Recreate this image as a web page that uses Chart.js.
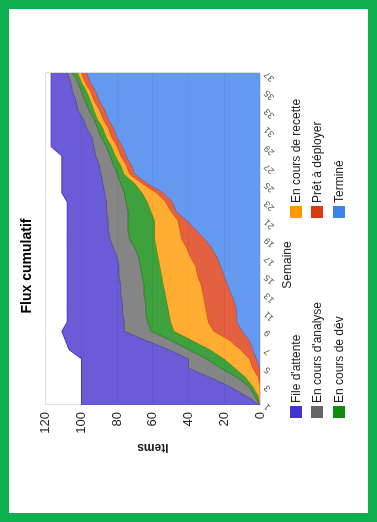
<!DOCTYPE html>
<html>
<head>
<meta charset="utf-8">
<script src="https://cdn.jsdelivr.net/npm/chart.js@4.4.0/dist/chart.umd.min.js"></script>
<style>
    html, body { margin: 0; padding: 0; background: #fff; overflow: hidden; }
    /* le graphique est dessiné à plat puis tourné d'un quart de tour */
    #frame {
        position: absolute; left: 0; top: 0;
        width: 522px; height: 377px;
        box-sizing: border-box;
        border: 9px solid #0cb04f;
        background: #fff;
        transform-origin: 0 0;
        transform: translateY(522px) rotate(-90deg);
        font-family: "Liberation Sans", Arial, sans-serif;
    }
    #chart { position: absolute; left: 0; top: 0; }
    #xtitle {
        position: absolute; left: 248px; top: 271px;
        transform: translateX(-50%);
        font-size: 12px; line-height: 14px; color: #222; white-space: nowrap;
    }
    #legend {
        position: absolute; left: 95px; top: 276px;
        display: grid;
        grid-template-columns: 200px 200px;
        grid-auto-rows: 21.5px;
        grid-auto-flow: column;
        grid-template-rows: repeat(3, 21.5px);
        font-size: 12px; color: #222;
    }
    #legend .item { display: flex; align-items: center; white-space: nowrap; }
    #legend .box { width: 12px; height: 12px; margin-right: 3px; }
</style>
</head>
<body>
<div id="frame">
    <canvas id="chart" width="504" height="359"></canvas>
    <div id="xtitle">Semaine</div>
    <div id="legend"></div>
</div>
<script>
// Semaines 1 à 37
const semaines = ['1','2','3','4','5','6','7','8','9','10','11','12','13','14','15','16','17','18','19',
    '20','21','22','23','24','25','26','27','28','29','30','31','32','33','34','35','36','37'];

// Valeurs cumulées (haut de chaque bande)
const fileAttente = [100,100,100,100,100,100,107,109,111,108,108,108,108,108,108,108,108,108,108,
    108,108,108,108,111,111,111,111,111,117,117,117,117,117,117,117,117,117];
const coursAnalyse = [0,8,17,28,40,40,51,64,76,76,77,77,78,78,79,79,80,82,84,
    85,85,86,86,87,88,89,90,92,93,94,97,99,102,103,105,106,108];
const coursDev = [0,3,6,13,22,30,40,50,61,63,64,64,65,65,66,67,68,70,73,
    74,74,74,75,76,78,80,82,84,86,89,91,93,96,98,100,102,105];
const coursRecette = [0,1,4,8,14,20,28,38,48,50,51,52,53,54,55,56,57,58,59,
    59,59,61,63,66,70,76,78,81,83,86,88,91,93,95,97,100,102];
const pretDeployer = [0,0,0,1,4,6,11,17,26,29,30,31,32,33,35,36,39,41,44,
    45,46,50,53,58,66,73,75,78,80,83,85,88,90,93,95,98,100];
const termine = [0,0,0,0,0,2,4,6,10,13,13,14,16,18,20,22,24,27,31,
    36,41,47,49,54,63,70,72,75,77,80,82,85,87,90,92,95,97];

const yTicks = [0, 20, 40, 60, 80, 100, 120];

const series = [
    { label: "File d'attente", data: fileAttente, color: '#4433cc' },
    { label: "En cours d'analyse", data: coursAnalyse, color: '#666666' },
    { label: 'En cours de dév', data: coursDev, color: '#0e8a0e' },
    { label: 'En cours de recette', data: coursRecette, color: '#ff9900' },
    { label: 'Prêt à déployer', data: pretDeployer, color: '#dc3912' },
    { label: 'Terminé', data: termine, color: '#3f80ec' }
];

function withAlpha(hex, a) {
    const n = parseInt(hex.slice(1), 16);
    return `rgba(${n >> 16}, ${(n >> 8) & 255}, ${n & 255}, ${a})`;
}

Chart.defaults.font.family = '"Liberation Sans", Arial, sans-serif';

const ctx = document.getElementById('chart').getContext('2d');
new Chart(ctx, {
    type: 'line',
    data: {
        labels: semaines,
        datasets: series.map((s, i) => ({
            label: s.label,
            data: s.data,
            borderColor: s.color,
            backgroundColor: withAlpha(s.color, 0.8),
            borderWidth: 1,
            pointRadius: 0,
            tension: 0,
            fill: i < series.length - 1 ? '+1' : 'origin'
        }))
    },
    options: {
        responsive: false,
        animation: false,
        devicePixelRatio: 1,
        layout: { padding: { left: 54, right: 64, top: 0, bottom: 88 } },
        plugins: {
            legend: { display: false },
            tooltip: { enabled: false },
            title: {
                display: true,
                text: 'Flux cumulatif',
                color: '#000',
                font: { size: 14, weight: 'bold' },
                padding: { top: 10, bottom: 10 }
            }
        },
        scales: {
            x: {
                grid: {
                    drawTicks: false,
                    color: c => (c.index === 0 || c.index === semaines.length - 1) ? '#dddddd' : 'rgba(0,0,0,0)'
                },
                border: { display: false },
                ticks: {
                    autoSkip: false,
                    minRotation: 45,
                    maxRotation: 45,
                    padding: 2,
                    color: '#555',
                    font: { size: 9 },
                    callback: (v, i) => i % 2 === 0 ? semaines[i] : ''
                },
                afterFit: s => { s.height = 20; }
            },
            y: {
                min: 0,
                max: 120,
                afterBuildTicks: s => { s.ticks = yTicks.map(v => ({ value: v })); },
                grid: { drawTicks: false, color: '#dddddd' },
                border: { display: false },
                ticks: { padding: 7, color: '#222', font: { size: 13 } },
                title: {
                    display: true,
                    text: 'Items',
                    color: '#222',
                    font: { size: 12, weight: 'bold' },
                    padding: 4
                },
                afterFit: s => { s.width = 54; }
            }
        }
    }
});

// légende en deux colonnes, remplie colonne par colonne
const legend = document.getElementById('legend');
series.forEach(s => {
    const item = document.createElement('div');
    item.className = 'item';
    item.innerHTML = `<span class="box" style="background:${s.color}"></span>${s.label}`;
    legend.appendChild(item);
});
</script>
</body>
</html>
